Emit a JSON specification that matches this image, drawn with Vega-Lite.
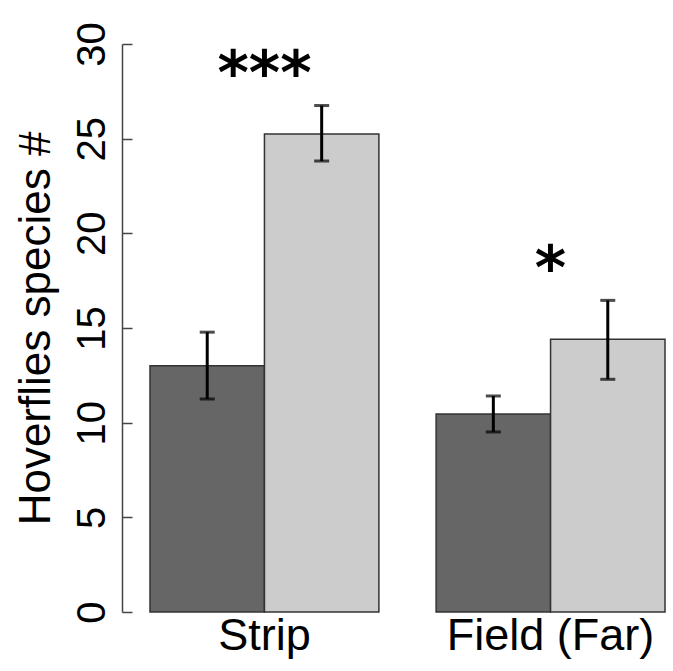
{
  "$schema": "https://vega.github.io/schema/vega-lite/v6.json",
  "width": 515,
  "height": 568,
  "autosize": "none",
  "padding": {"left": 150, "top": 44, "right": 8, "bottom": 59},
  "background": "white",
  "config": {"view": {"stroke": null}, "font": "Liberation Sans"},
  "datasets": {
    "bars": [
      {"site": "Strip", "group": "A", "mean": 13.0, "lo": 11.25, "hi": 14.78},
      {"site": "Strip", "group": "B", "mean": 25.25, "lo": 23.82, "hi": 26.75},
      {"site": "Field (Far)", "group": "A", "mean": 10.46, "lo": 9.51, "hi": 11.41},
      {"site": "Field (Far)", "group": "B", "mean": 14.4, "lo": 12.29, "hi": 16.46}
    ],
    "stars": [
      {"site": "Strip", "y": 29.0, "label": "***"},
      {"site": "Field (Far)", "y": 18.7, "label": "*"}
    ]
  },
  "layer": [
    {
      "data": {"name": "bars"},
      "mark": {"type": "bar", "stroke": "#333333", "strokeWidth": 1.5},
      "encoding": {
        "x": {"field": "site", "type": "nominal", "sort": ["Strip", "Field (Far)"],
              "scale": {"paddingInner": 0.2, "paddingOuter": 0},
              "axis": {"title": null, "labelAngle": 0, "domain": false, "ticks": false, "labelFontSize": 45, "labelColor": "black", "labelPadding": 1, "labelLimit": 0}},
        "xOffset": {"field": "group", "type": "nominal", "scale": {"paddingInner": 0, "paddingOuter": 0}},
        "y": {"field": "mean", "type": "quantitative",
              "scale": {"domain": [0, 30], "nice": false, "zero": true},
              "axis": {"title": "Hoverflies species #", "titleFontSize": 44, "titleFontWeight": "normal", "titleColor": "black",
                       "titlePadding": 14, "values": [0, 5, 10, 15, 20, 25, 30], "grid": false, "offset": 28,
                       "domainColor": "#444444", "domainWidth": 1.5, "tickColor": "#444444", "tickWidth": 1.5, "tickSize": -10,
                       "labelAngle": -90, "labelFontSize": 40, "labelColor": "black", "labelPadding": 20, "labelBaseline": "bottom", "labelAlign": "center"}},
        "color": {"field": "group", "type": "nominal", "scale": {"domain": ["A", "B"], "range": ["#666666", "#cccccc"]}, "legend": null}
      }
    },
    {
      "data": {"name": "bars"},
      "mark": {"type": "rule", "color": "black", "strokeWidth": 3},
      "encoding": {
        "x": {"field": "site", "type": "nominal", "sort": ["Strip", "Field (Far)"]},
        "xOffset": {"field": "group", "type": "nominal"},
        "y": {"field": "lo", "type": "quantitative"},
        "y2": {"field": "hi"}
      }
    },
    {
      "data": {"name": "bars"},
      "mark": {"type": "tick", "color": "black", "thickness": 3, "size": 15},
      "encoding": {
        "x": {"field": "site", "type": "nominal", "sort": ["Strip", "Field (Far)"]},
        "xOffset": {"field": "group", "type": "nominal"},
        "y": {"field": "lo", "type": "quantitative"}
      }
    },
    {
      "data": {"name": "bars"},
      "mark": {"type": "tick", "color": "black", "thickness": 3, "size": 15},
      "encoding": {
        "x": {"field": "site", "type": "nominal", "sort": ["Strip", "Field (Far)"]},
        "xOffset": {"field": "group", "type": "nominal"},
        "y": {"field": "hi", "type": "quantitative"}
      }
    },
    {
      "data": {"name": "stars"},
      "mark": {"type": "text", "font": "DejaVu Sans", "fontSize": 60, "fontWeight": "bold", "color": "black", "baseline": "middle", "dy": 13},
      "encoding": {
        "x": {"field": "site", "type": "nominal", "sort": ["Strip", "Field (Far)"]},
        "y": {"field": "y", "type": "quantitative"},
        "text": {"field": "label"}
      }
    }
  ]
}
